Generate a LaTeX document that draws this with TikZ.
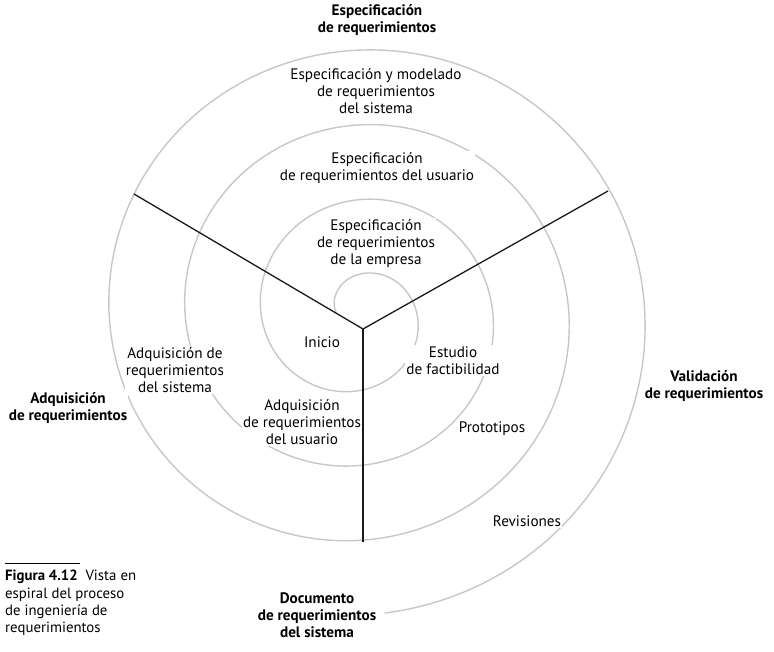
\documentclass[tikz,border=0pt]{standalone}
\usepackage{fontspec}
\setmainfont{PT Sans}
\begin{document}
\begin{tikzpicture}[x=1pt,y=-1pt,
  lbl/.style={fill=white,inner sep=1.2pt,align=center,font=\fontsize{15.2}{17}\selectfont},
  ttl/.style={fill=white,inner sep=1.2pt,align=center,font=\fontsize{15.2}{17}\selectfont\bfseries},
  spir/.style={draw=black!22,line width=1.4pt},
  axis/.style={draw=black!90,line width=1.3pt}]
\useasboundingbox (0,0) rectangle (774,651);
% spiral
\draw[spir] plot[domain=180:-1165,samples=500,variable=\t,smooth]
  ({358+(21+0.211*(180-\t))*cos(\t)},{314-0.985*(21+0.211*(180-\t))*sin(\t)});
% axes
\coordinate (c) at (363,329);
\coordinate (ul) at (134,194);
\coordinate (ur) at (608,191);
\coordinate (dn) at (363,542);
\draw[axis] (c) -- (ul);
\draw[axis] (c) -- (ur);
\draw[axis] (c) -- (dn);
% labels
\node[ttl] (tspec) at (377,20.5) {Especificación\\de requerimientos};
\node[lbl] (sismod) at (376,91.5) {Especificación y modelado\\de requerimientos\\del sistema};
\node[lbl] (usu) at (377,168) {Especificación\\de requerimientos del usuario};
\node[lbl] (emp) at (376,243.5) {Especificación\\de requerimientos\\de la empresa};
\node[lbl] (inicio) at (322,342) {Inicio};
\node[lbl] (estudio) at (453,360.5) {Estudio\\de factibilidad};
\node[lbl] (proto) at (492,429) {Prototipos};
\node[lbl] (rev) at (527,521) {Revisiones};
\node[lbl] (adqsis) at (175,370.5) {Adquisición de\\requerimientos\\del sistema};
\node[lbl] (adqusu) at (302,422.5) {Adquisición\\de requerimientos\\del usuario};
\node[ttl] (tadq) at (68,408.5) {Adquisición\\de requerimientos};
\node[ttl] (tval) at (704,386.5) {Validación\\de requerimientos};
\node[ttl] (tdoc) at (317,615) {Documento\\de requerimientos\\del sistema};
% caption
\coordinate (r1) at (5,563);
\coordinate (r2) at (80,563);
\draw[line width=0.8pt] (r1) -- (r2);
\node[anchor=north west,inner sep=0pt,align=left,font=\fontsize{14.8}{17.4}\selectfont] (cap) at (5,570)
  {\textbf{Figura 4.12}\ \ Vista en\\espiral del proceso\\de ingeniería de\\requerimientos};
\end{tikzpicture}
\end{document}
